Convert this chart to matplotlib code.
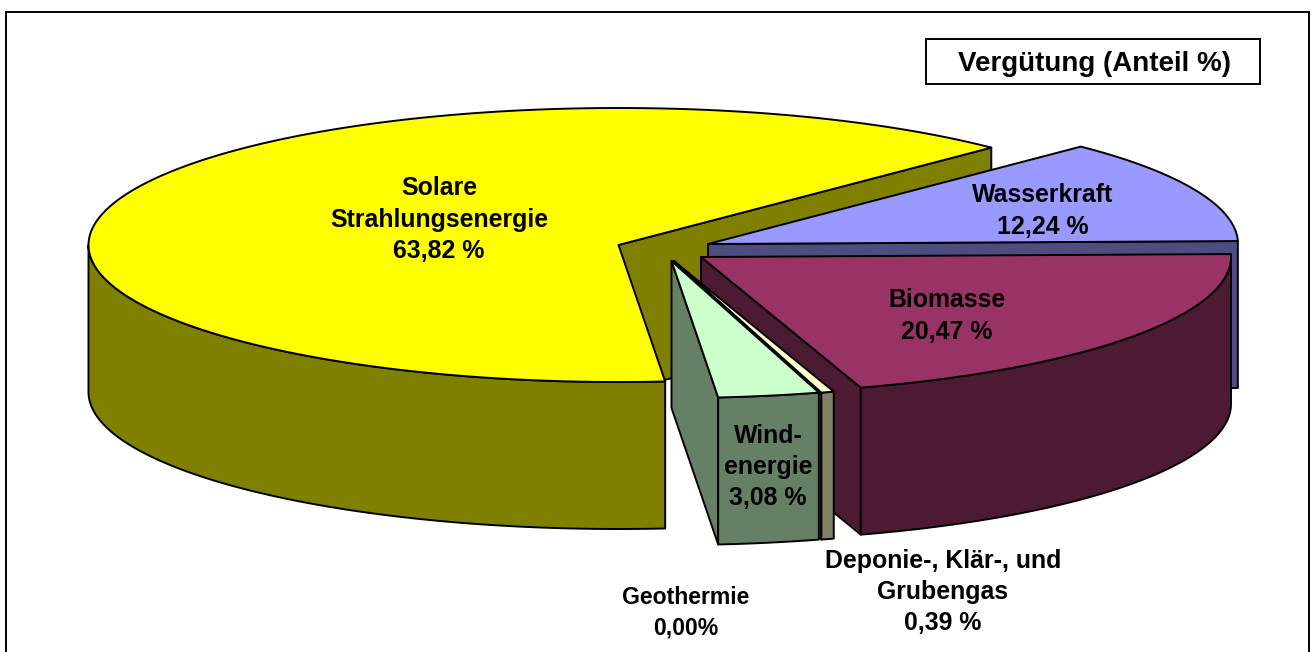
import numpy as np
import matplotlib
matplotlib.use("Agg")
import matplotlib.pyplot as plt
from matplotlib.patches import Polygon, Rectangle

# --- data ---
categories = ["Solare Strahlungsenergie", "Geothermie", "Windenergie",
              "Deponie-, Klär-, und Grubengas", "Biomasse", "Wasserkraft"]
values = [63.82, 0.00, 3.08, 0.39, 20.47, 12.24]
labels = ["Solare\nStrahlungsenergie\n63,82 %", "Geothermie\n0,00%", "Wind-\nenergie\n3,08 %",
          "Deponie-, Klär-, und\nGrubengas\n0,39 %", "Biomasse\n20,47 %", "Wasserkraft\n12,24 %"]
title = "Vergütung (Anteil %)"

# --- styles / layout ---
top_colors = ["#ffff00", "#66999f", "#ccffcc", "#ffffcc", "#993366", "#9999ff"]
side_colors = ["#808000", "#66999f", "#668066", "#808066", "#4d1a33", "#4d4d80"]
apex = [(618.5, 245), (675, 261), (671.5, 261), (674, 261), (701, 257), (708, 244)]
label_pos = [(439, 219.5), (686, 612.5), (768, 467), (943, 592), (947, 316), (1043, 211)]
label_size = [17.9, 16.6, 17.9, 17.9, 17.9, 17.9]
line_w = [1.4, 0.7, 1.4, 1.4, 1.4, 1.4]
A, B, DEPTH, START = 530, 137, 147, 45.3
LW = 1.4

fig = plt.figure(figsize=(13.11, 6.52), dpi=100)
ax = fig.add_axes([0, 0, 1, 1])
ax.set_xlim(0, 1311)
ax.set_ylim(652, 0)
ax.axis("off")
font = dict(family="Liberation Sans", weight="bold", color="black")

ax.add_patch(Rectangle((6, 12), 1302.5, 660, fc="white", ec="black", lw=LW, zorder=0))

edges = START + np.concatenate([[0], np.cumsum(values)]) * 3.6


def pt(c, t):
    t = np.radians(t)
    return np.column_stack([c[0] + A * np.cos(t), c[1] - B * np.sin(t)])


def poly(xy, fc, z, lw):
    ax.add_patch(Polygon(xy, closed=True, fc=fc, ec="black", lw=lw, joinstyle="round", zorder=z))


order = [0, 5, 4, 3, 1, 2]  # painter's order, back to front
for z, i in enumerate(order):
    c = np.array(apex[i], float)
    t0, t1 = edges[i], edges[i + 1]
    ts = np.linspace(t0, t1, max(2, int((t1 - t0) * 2)))
    base = 10 + z * 5
    down = np.array([0, DEPTH])
    # radial wall at the slice's leading edge faces the viewer
    o = pt(c, t0)[0]
    poly([c, o, o + down, c + down], side_colors[i], base, line_w[i])
    # outer rim, front half only
    lo, hi = max(t0, 180), min(t1, 360)
    if hi > lo:
        rim = pt(c, np.linspace(lo, hi, 120))
        poly(np.vstack([rim, (rim + down)[::-1]]), side_colors[i], base + 1, line_w[i])
    # top surface
    poly(np.vstack([c[None, :], pt(c, ts)]), top_colors[i], base + 2, line_w[i])

for lab, (x, y), s in zip(labels, label_pos, label_size):
    ax.text(x, y, lab, fontsize=s, ha="center", va="center", multialignment="center",
            linespacing=1.39, zorder=60, **font)

ax.add_patch(Rectangle((926, 38.5), 334, 45.5, fc="white", ec="black", lw=LW, zorder=61))
ax.text(1094.5, 64, title, fontsize=20, ha="center", va="center", zorder=62, **font)

fig.savefig("out.png", dpi=100)
